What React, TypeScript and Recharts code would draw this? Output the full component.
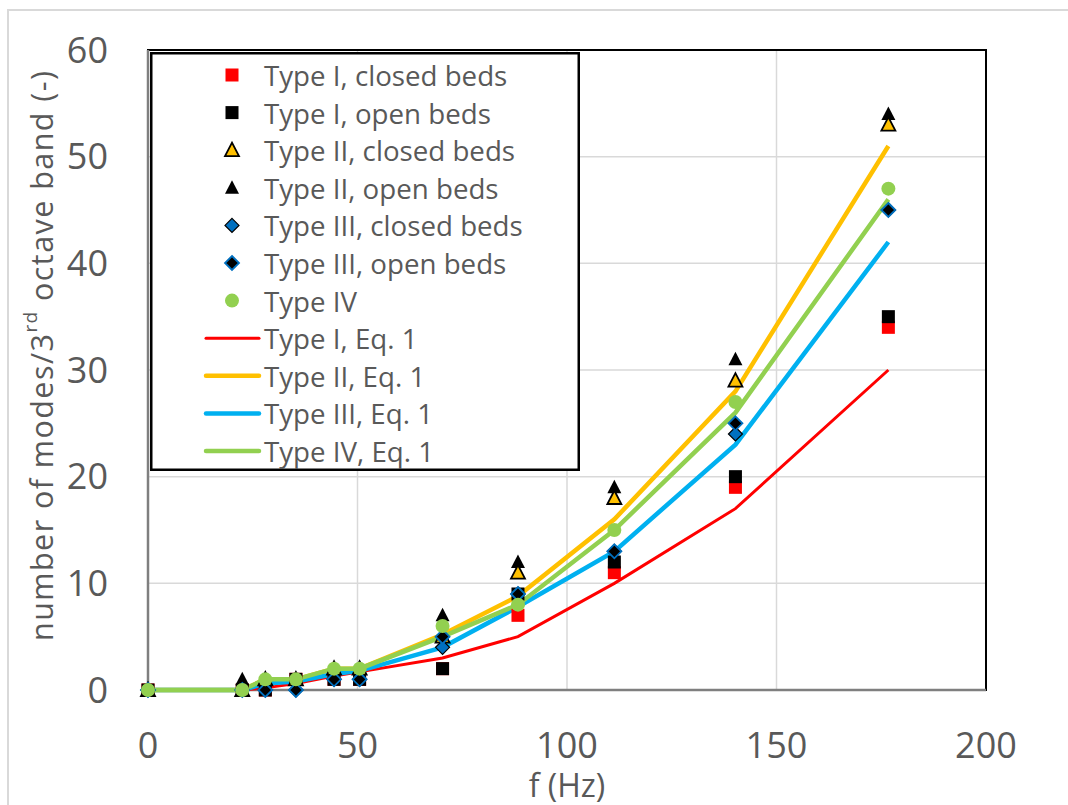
import React from 'react';
import {
  ScatterChart,
  Scatter,
  XAxis,
  YAxis,
  CartesianGrid,
  ReferenceArea,
  Legend,
  Label,
} from 'recharts';

// band frequencies (Hz)
const freqHz = [0, 22.5, 28, 35.3, 44.4, 50.5, 70.3, 88.3, 111.3, 140.2, 176.7];

// measured mode counts
const typeIClosed = [0, 0, 0, 1, 1, 1, 2, 7, 11, 19, 34];
const typeIOpen = [0, 0, 0, 1, 1, 1, 2, 9, 12, 20, 35];
const typeIIClosed = [0, 0, 1, 1, 2, 2, 5, 11, 18, 29, 53];
const typeIIOpen = [0, 1, 1, 1, 2, 2, 7, 12, 19, 31, 54];
const typeIIIClosed = [0, 0, 0, 0, 1, 1, 4, 9, 13, 24, 45];
const typeIIIOpen = [0, 0, 0, 0, 1, 1, 5, 9, 13, 25, 45];
const typeIV = [0, 0, 1, 1, 2, 2, 6, 8, 15, 27, 47];

// Eq. 1 curves
const eqTypeI = [0, 0, 0.2, 0.6, 1.3, 1.7, 3, 5, 10, 17, 30];
const eqTypeII = [0, 0, 1, 1, 2, 2, 5.2, 8.8, 16, 28, 51];
const eqTypeIII = [0, 0, 0.6, 0.8, 1.5, 1.8, 4, 7.8, 13, 23, 42];
const eqTypeIV = [0, 0, 1, 1, 2, 2, 5, 8, 15, 26, 46];

const xTicks = [0, 50, 100, 150, 200];
const yTicks = [0, 10, 20, 30, 40, 50, 60];

const FONT = '"Open Sans", sans-serif';
const TEXT = '#595959';
const RED = '#FF0000';
const YELLOW = '#FFC000';
const BLUE = '#00B0F0';
const DBLUE = '#0070C0';
const GREEN = '#92D050';

const toPoints = (ys: number[]) => freqHz.map((x, i) => ({ x, y: ys[i] }));

type MarkerKind = 'sqRed' | 'sqBlack' | 'triYellow' | 'triBlack' | 'diaBlue' | 'diaBlack' | 'circle';

function Marker({ kind, cx, cy }: { kind: MarkerKind; cx: number; cy: number }) {
  switch (kind) {
    case 'sqRed':
    case 'sqBlack':
      return <rect x={cx - 6.5} y={cy - 6.5} width={13} height={13} fill={kind === 'sqRed' ? RED : '#000'} />;
    case 'triYellow':
    case 'triBlack': {
      const pts = `${cx},${cy - 7.5} ${cx + 7},${cy + 6} ${cx - 7},${cy + 6}`;
      return kind === 'triYellow' ? (
        <polygon points={pts} fill={YELLOW} stroke="#000" strokeWidth={1.8} strokeLinejoin="miter" />
      ) : (
        <polygon points={pts} fill="#000" />
      );
    }
    case 'diaBlue':
    case 'diaBlack': {
      const pts = `${cx},${cy - 7} ${cx + 7},${cy} ${cx},${cy + 7} ${cx - 7},${cy}`;
      return kind === 'diaBlue' ? (
        <polygon points={pts} fill={DBLUE} stroke="#000" strokeWidth={1.2} />
      ) : (
        <polygon points={pts} fill="#000" stroke={DBLUE} strokeWidth={1.8} />
      );
    }
    default:
      return <circle cx={cx} cy={cy} r={7} fill={GREEN} />;
  }
}

const shapeOf = (kind: MarkerKind) => (props: any) => <Marker kind={kind} cx={props.cx} cy={props.cy} />;
const noShape = () => <g />;

const legendRows: { label: string; marker?: MarkerKind; line?: string; width?: number }[] = [
  { label: 'Type I, closed beds', marker: 'sqRed' },
  { label: 'Type I, open beds', marker: 'sqBlack' },
  { label: 'Type II, closed beds', marker: 'triYellow' },
  { label: 'Type II, open beds', marker: 'triBlack' },
  { label: 'Type III, closed beds', marker: 'diaBlue' },
  { label: 'Type III, open beds', marker: 'diaBlack' },
  { label: 'Type IV', marker: 'circle' },
  { label: 'Type I, Eq. 1', line: RED, width: 3 },
  { label: 'Type II, Eq. 1', line: YELLOW, width: 4.5 },
  { label: 'Type III, Eq. 1', line: BLUE, width: 4.5 },
  { label: 'Type IV, Eq. 1', line: GREEN, width: 4.5 },
];

function LegendBox() {
  return (
    <svg width={430} height={419} style={{ display: 'block' }}>
      <rect x={1.25} y={1.25} width={427.5} height={416.5} fill="#fff" stroke="#000" strokeWidth={2.5} />
      {legendRows.map((r, i) => {
        const cy = 23 + i * 37.6;
        return (
          <g key={r.label}>
            {r.marker ? (
              <Marker kind={r.marker} cx={82} cy={cy} />
            ) : (
              <line x1={56} x2={109} y1={cy} y2={cy} stroke={r.line} strokeWidth={r.width} strokeLinecap="round" />
            )}
            <text x={114} y={cy} dominantBaseline="central" fontFamily={FONT} fontSize={27.7} fill={TEXT}>
              {r.label}
            </text>
          </g>
        );
      })}
    </svg>
  );
}

export default function App() {
  return (
    <div style={{ position: 'absolute', left: 0, top: 0, width: 1068, height: 805, overflow: 'hidden', background: '#fff' }}>
      <div
        style={{
          position: 'absolute',
          left: 7,
          top: 9,
          width: 1200,
          height: 900,
          border: '2px solid #D9D9D9',
        }}
      />
      <div style={{ position: 'absolute', left: 0, top: 0 }}>
        <ScatterChart width={1068} height={805} margin={{ top: 50, right: 82, bottom: 55, left: 0 }}>
          <CartesianGrid stroke="#D9D9D9" strokeWidth={1.5} />
          <XAxis
            type="number"
            dataKey="x"
            domain={[0, 200]}
            ticks={xTicks}
            height={60}
            tickSize={0}
            tickMargin={42}
            axisLine={{ stroke: '#7F7F7F', strokeWidth: 2.5 }}
            tick={{ fontSize: 36, fill: TEXT, fontFamily: FONT }}
          >
            <Label
              content={() => (
                <text x={567} y={784} textAnchor="middle" dominantBaseline="central" fontFamily={FONT} fontSize={32} fill={TEXT}>
                  f (Hz)
                </text>
              )}
            />
          </XAxis>
          <YAxis
            type="number"
            dataKey="y"
            domain={[0, 60]}
            ticks={yTicks}
            width={148}
            tickSize={0}
            tickMargin={40}
            axisLine={{ stroke: '#7F7F7F', strokeWidth: 2.5 }}
            tick={{ fontSize: 36, fill: TEXT, fontFamily: FONT }}
          >
            <Label
              content={() => (
                <text
                  x={41}
                  y={356}
                  transform="rotate(-90, 41, 356)"
                  textAnchor="middle"
                  dominantBaseline="central"
                  fontFamily={FONT}
                  fontSize={30.5}
                  textLength={570}
                  lengthAdjust="spacing"
                  fill={TEXT}
                >
                  number of modes/3
                  <tspan fontSize={19} dy={-11}>rd</tspan>
                  <tspan dy={11}> octave band (-)</tspan>
                </text>
              )}
            />
          </YAxis>
          <ReferenceArea x1={0} x2={200} y1={0} y2={60} fill="none" stroke="#000" strokeWidth={2} ifOverflow="visible" />

          <Scatter data={toPoints(eqTypeI)} line={{ stroke: RED, strokeWidth: 3 }} lineType="joint" shape={noShape} isAnimationActive={false} />
          <Scatter data={toPoints(eqTypeII)} line={{ stroke: YELLOW, strokeWidth: 4.5 }} lineType="joint" shape={noShape} isAnimationActive={false} />
          <Scatter data={toPoints(eqTypeIII)} line={{ stroke: BLUE, strokeWidth: 4.5 }} lineType="joint" shape={noShape} isAnimationActive={false} />
          <Scatter data={toPoints(eqTypeIV)} line={{ stroke: GREEN, strokeWidth: 4.5 }} lineType="joint" shape={noShape} isAnimationActive={false} />

          <Scatter data={toPoints(typeIClosed)} shape={shapeOf('sqRed')} isAnimationActive={false} />
          <Scatter data={toPoints(typeIOpen)} shape={shapeOf('sqBlack')} isAnimationActive={false} />
          <Scatter data={toPoints(typeIIOpen)} shape={shapeOf('triBlack')} isAnimationActive={false} />
          <Scatter data={toPoints(typeIIClosed)} shape={shapeOf('triYellow')} isAnimationActive={false} />
          <Scatter data={toPoints(typeIIIClosed)} shape={shapeOf('diaBlue')} isAnimationActive={false} />
          <Scatter data={toPoints(typeIIIOpen)} shape={shapeOf('diaBlack')} isAnimationActive={false} />
          <Scatter data={toPoints(typeIV)} shape={shapeOf('circle')} isAnimationActive={false} />

          <Legend
            layout="vertical"
            align="center"
            verticalAlign="middle"
            content={() => <LegendBox />}
            wrapperStyle={{ left: 150, top: 52, width: 430, height: 419 }}
          />
        </ScatterChart>
      </div>
    </div>
  );
}
